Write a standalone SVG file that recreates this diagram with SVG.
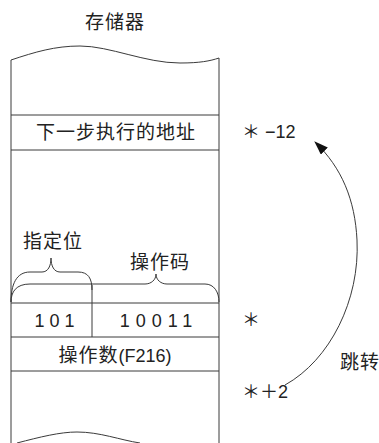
<svg xmlns="http://www.w3.org/2000/svg" width="379" height="443" viewBox="0 0 379 443">
<style>
.ln{fill:none;stroke:#3a3a3a;stroke-width:1}
.cj{font-family:"Noto Sans CJK SC","Liberation Sans",sans-serif;font-size:19px;fill:#222;letter-spacing:1px}
.num{font-family:"Liberation Sans","Noto Sans CJK SC",sans-serif;font-size:18px;fill:#222}
</style>
<defs>
<marker id="ah" viewBox="0 0 14 10" refX="13" refY="5" markerWidth="14" markerHeight="10" markerUnits="userSpaceOnUse" orient="auto">
<path d="M0,0 L14,5 L0,10 Z" fill="#111"/>
</marker>
</defs>
<g id="title"><text class="cj" x="115" y="29" text-anchor="middle">存储器</text></g>
<g id="memory">
<path class="ln" d="M11,60 C35,52 55,46 80,46 C110,46 145,63 180,63 C200,63 210,61 219,58"/>
<path class="ln" d="M11,60 L11,443 M219,58 L219,443"/>
<path class="ln" d="M17,443 C40,437 60,432 77,432 C100,432 120,440 140,443"/>
</g>
<g id="cell-next">
<path class="ln" d="M11,115 H219 M11,150 H219"/>
<text class="cj" x="116" y="139" text-anchor="middle">下一步执行的地址</text>
</g>
<g id="cell-instr">
<path class="ln" d="M11,303 H219 M11,337 H219 M92,285 V337"/>
<text class="num" x="57" y="327" text-anchor="middle" letter-spacing="5">101</text>
<text class="num" x="159" y="327" text-anchor="middle" letter-spacing="6">10011</text>
</g>
<g id="cell-operand">
<path class="ln" d="M11,371 H219"/>
<text x="115" y="362" text-anchor="middle"><tspan class="cj" letter-spacing="0">操作数</tspan><tspan class="num">(F2</tspan><tspan class="num" font-size="13">16</tspan><tspan class="num">)</tspan></text>
</g>
<g id="brace-spec">
<path class="ln" d="M11,302 C11,285 16,272 30,272 L42,272 C48,272 51,266 51,258 C51,266 54,272 60,272 L78,272 C88,272 92,278 92,290"/>
<text class="cj" x="53" y="248" text-anchor="middle">指定位</text>
</g>
<g id="brace-op">
<path class="ln" d="M11,302 C11,292 16,284 30,284 L145,284 C151,284 156,280 156,274 C156,280 161,284 167,284 L205,284 C214,284 219,292 219,302"/>
<text class="cj" x="160" y="269" text-anchor="middle">操作码</text>
</g>
<g id="addr-m12"><text class="num" x="242" y="138">＊ −12</text></g>
<g id="addr-0"><text class="num" x="242" y="326">＊</text></g>
<g id="addr-p2"><text class="num" x="242" y="398">＊＋2</text></g>
<g id="jump-label"><text class="cj" x="340" y="369" letter-spacing="0">跳转</text></g>
<g id="connectors">
<path class="ln" stroke="#111" d="M285,385 C330,360 360,300 357,240 C355,200 342,168 315,142" marker-end="url(#ah)"/>
</g>
</svg>
